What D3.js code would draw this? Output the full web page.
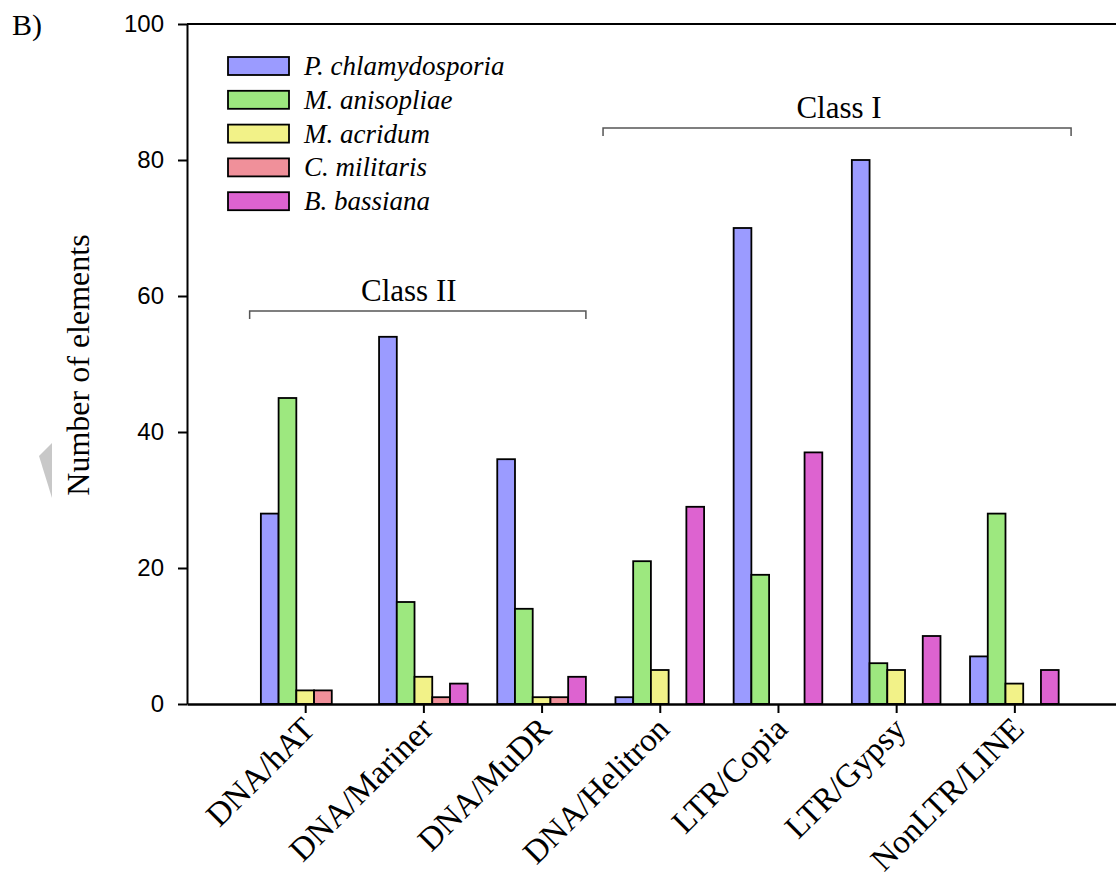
<!DOCTYPE html>
<html>
<head>
<meta charset="utf-8">
<script src="https://cdn.jsdelivr.net/npm/d3@7"></script>
<style>
  body { margin: 0; background: #fff; }
  svg { display: block; }
</style>
</head>
<body>
<div id="chart"></div>
<script>
// categories and series
const categories = ["DNA/hAT", "DNA/Mariner", "DNA/MuDR", "DNA/Helitron", "LTR/Copia", "LTR/Gypsy", "NonLTR/LINE"];
const species = ["P. chlamydosporia", "M. anisopliae", "M. acridum", "C. militaris", "B. bassiana"];
const pChlamydosporia = [28, 54, 36, 1, 70, 80, 7];
const mAnisopliae    = [45, 15, 14, 21, 19, 6, 28];
const mAcridum       = [2, 4, 1, 5, 0, 5, 3];
const cMilitaris     = [2, 1, 1, 0, 0, 0, 0];
const bBassiana      = [0, 3, 4, 29, 37, 10, 5];
const yTicks = [0, 20, 40, 60, 80, 100];
const colors = ["#9b9bff", "#9de87f", "#f2f288", "#f0909a", "#dd63d0"];

const series = [pChlamydosporia, mAnisopliae, mAcridum, cMilitaris, bBassiana];

const width = 1116, height = 878;
const plot = { left: 187, right: 1116, top: 24, bottom: 704 };

const svg = d3.select("#chart").append("svg")
    .attr("width", width)
    .attr("height", height);

// scales: categories sit at 1..7, axis runs a bit past the last one
const x = d3.scaleLinear().domain([0, 7.86]).range([plot.left, plot.right]);
const y = d3.scaleLinear().domain([0, 100]).range([plot.bottom, plot.top]);
const step = x(1) - x(0);
const barW = step * 0.15;

// bars
const barData = [];
series.forEach((vals, s) => {
    vals.forEach((v, i) => {
        if (v > 0) barData.push({ s: s, i: i, v: v });
    });
});

svg.append("g").selectAll("rect")
    .data(barData)
    .join("rect")
    .attr("x", d => x(d.i + 1) + (d.s - 2.5) * barW)
    .attr("y", d => y(d.v))
    .attr("width", barW)
    .attr("height", d => y(0) - y(d.v))
    .attr("fill", d => colors[d.s])
    .attr("stroke", "#000")
    .attr("stroke-width", 1.8);

// y axis
const yAxis = d3.axisLeft(y).tickValues(yTicks).tickSize(9).tickSizeOuter(0).tickPadding(14);
const gy = svg.append("g")
    .attr("transform", `translate(${plot.left},0)`)
    .call(yAxis);
gy.select(".domain").attr("stroke-width", 2);
gy.selectAll(".tick line").attr("stroke-width", 2);
gy.selectAll(".tick text")
    .style("font-family", "'Liberation Sans', Arial, sans-serif")
    .style("font-size", "24px")
    .attr("fill", "#000");

// top frame line
svg.append("line")
    .attr("x1", plot.left).attr("x2", plot.right)
    .attr("y1", y(100)).attr("y2", y(100))
    .attr("stroke", "#000").attr("stroke-width", 2);

// x axis
const xAxis = d3.axisBottom(x)
    .tickValues(d3.range(1, categories.length + 1))
    .tickSize(9).tickSizeOuter(0)
    .tickFormat(d => categories[d - 1]);
const gx = svg.append("g")
    .attr("transform", `translate(0,${plot.bottom})`)
    .call(xAxis);
gx.select(".domain").attr("stroke-width", 2.5);
gx.selectAll(".tick line").attr("stroke-width", 2);
gx.selectAll(".tick text")
    .style("font-family", "'Liberation Serif', 'Times New Roman', serif")
    .style("font-size", "33px")
    .attr("fill", "#000")
    .attr("text-anchor", "end")
    .attr("dy", null)
    .attr("y", null)
    .attr("transform", "translate(11,27) rotate(-45)");

// y label
svg.append("text")
    .attr("transform", `translate(89,365) rotate(-90)`)
    .attr("text-anchor", "middle")
    .style("font-family", "'Liberation Serif', 'Times New Roman', serif")
    .style("font-size", "32px")
    .text("Number of elements");

// panel letter
svg.append("text")
    .attr("x", 12).attr("y", 35)
    .style("font-family", "'Liberation Serif', 'Times New Roman', serif")
    .style("font-size", "30px")
    .text("B)");

// little grey artifact next to the y label
svg.append("polygon")
    .attr("points", "39,456 52,443 52,498")
    .attr("fill", "#c8c8c8");

// legend
const legend = svg.append("g").selectAll("g")
    .data(species)
    .join("g")
    .attr("transform", (d, i) => `translate(228,${57 + i * 33.8})`);
legend.append("rect")
    .attr("width", 61).attr("height", 18)
    .attr("fill", (d, i) => colors[i])
    .attr("stroke", "#000").attr("stroke-width", 1.8);
legend.append("text")
    .attr("x", 76).attr("y", 18)
    .style("font-family", "'Liberation Serif', 'Times New Roman', serif")
    .style("font-style", "italic")
    .style("font-size", "27px")
    .text(d => d);

// class brackets
const brackets = [
    { label: "Class II", from: 1, to: 3, padL: 0.47, padR: 0.375, yv: 57.8, dx: -9 },
    { label: "Class I", from: 4, to: 7, padL: 0.48, padR: 0.48, yv: 84.7, dx: 2 }
];
brackets.forEach(b => {
    const x1 = x(b.from) - b.padL * step;
    const x2 = x(b.to) + b.padR * step;
    const yy = y(b.yv);
    svg.append("path")
        .attr("d", `M${x1},${yy + 8}V${yy}H${x2}V${yy + 8}`)
        .attr("fill", "none")
        .attr("stroke", "#555")
        .attr("stroke-width", 1.5);
    svg.append("text")
        .attr("x", (x1 + x2) / 2 + b.dx)
        .attr("y", yy - 10)
        .attr("text-anchor", "middle")
        .style("font-family", "'Liberation Serif', 'Times New Roman', serif")
        .style("font-size", "31px")
        .text(b.label);
});
</script>
</body>
</html>
